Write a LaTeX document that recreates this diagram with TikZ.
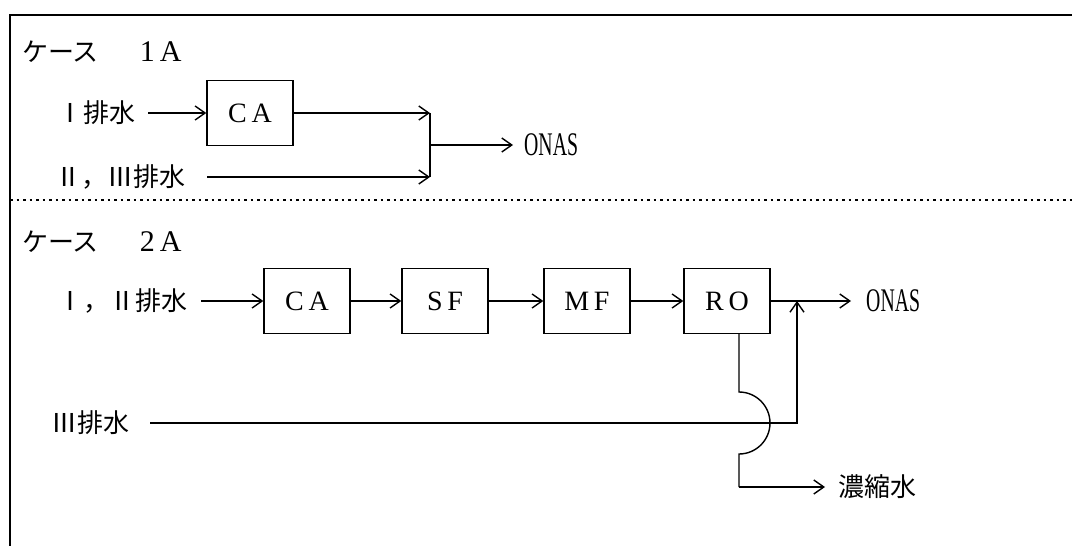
\documentclass[tikz,border=0pt]{standalone}
\usepackage{graphicx}
\usepackage{fontspec}
\setmainfont{Liberation Serif}
\newfontfamily\jp{Noto Sans CJK JP}
\usetikzlibrary{arrows.meta}

\tikzset{
  proc/.style={draw, line width=1.4pt, minimum width=86pt, minimum height=65pt,
    inner sep=0pt, font=\fontsize{28}{28}\selectfont},
  lbl/.style={inner sep=0pt, anchor=west, font=\jp\fontsize{26}{26}\selectfont},
  pipe/.style={line width=1.4pt},
  flow/.style={pipe, -{Straight Barb[length=10pt,width=14pt,line width=1.4pt]}},
}
\newcommand{\onas}{\scalebox{0.6}[1]{\rmfamily\fontsize{33}{33}\selectfont ONAS}}

\begin{document}
\begin{tikzpicture}[x=1pt,y=-1pt]
    \useasboundingbox (0,0) rectangle (1072,546);

    % Marco
    \draw[pipe] (1072,15) -- (10,15) -- (10,546);
    \draw[line width=1.2pt, dash pattern=on 2.5pt off 4pt] (10,200) -- (1072,200);

    % Caso 1A
    \node[lbl] (t1) at (22,52) {ケース\hspace{41pt}{\rmfamily\fontsize{30}{30}\selectfont 1\,A}};
    \node[lbl] (in1) at (57,113) {Ⅰ排水};
    \node[proc] (ca1) at (250,113) {C\,A};
    \node[lbl] (in23) at (55,177) {Ⅱ，Ⅲ排水};
    \node[lbl] (out1) at (524,145) {\onas};
    \coordinate (j1a) at (430,113);
    \coordinate (j1b) at (430,177);
    \coordinate (j1) at (430,145);

    \draw[flow, shorten <=13pt] (in1) -- (ca1);
    \draw[flow] (ca1) -- (j1a);
    \draw[flow, shorten <=22pt] (in23) -- (j1b);
    \draw[pipe] (j1a) -- (j1b);
    \draw[flow, shorten >=11pt] (j1) -- (out1);

    % Caso 2A
    \node[lbl] (t2) at (22,242) {ケース\hspace{41pt}{\rmfamily\fontsize{30}{30}\selectfont 2\,A}};
    \node[lbl] (in12) at (57,301) {Ⅰ，Ⅱ排水};
    \node[proc] (ca2) at (307,301) {C\,A};
    \node[proc] (sf2) at (445,301) {S\,F};
    \node[proc] (mf2) at (587,301) {M\,F};
    \node[proc] (ro2) at (727,301) {R\,O};
    \node[lbl] (out2) at (866,301) {\onas};
    \node[lbl] (in3) at (51,423) {Ⅲ排水};
    \node[lbl] (conc) at (838,487) {濃縮水};
    \coordinate (j2) at (797,301);
    \coordinate (k3) at (797,423);
    \coordinate (d1) at (739,392);
    \coordinate (d2) at (739,487);

    \draw[flow, shorten <=14pt] (in12) -- (ca2);
    \draw[flow] (ca2) -- (sf2);
    \draw[flow] (sf2) -- (mf2);
    \draw[flow] (mf2) -- (ro2);
    \draw[flow, shorten >=15pt] (ro2) -- (out2);
    \draw[flow, shorten <=21pt] (in3) -- (k3) -- (j2);
    % Salto sobre la linea del III
    \draw[pipe] (ro2.south -| d1) -- (d1) arc[start angle=-90, end angle=90, radius=31] -- (d2);
    \draw[flow, shorten >=13pt] (d2) -- (conc);
\end{tikzpicture}
\end{document}
